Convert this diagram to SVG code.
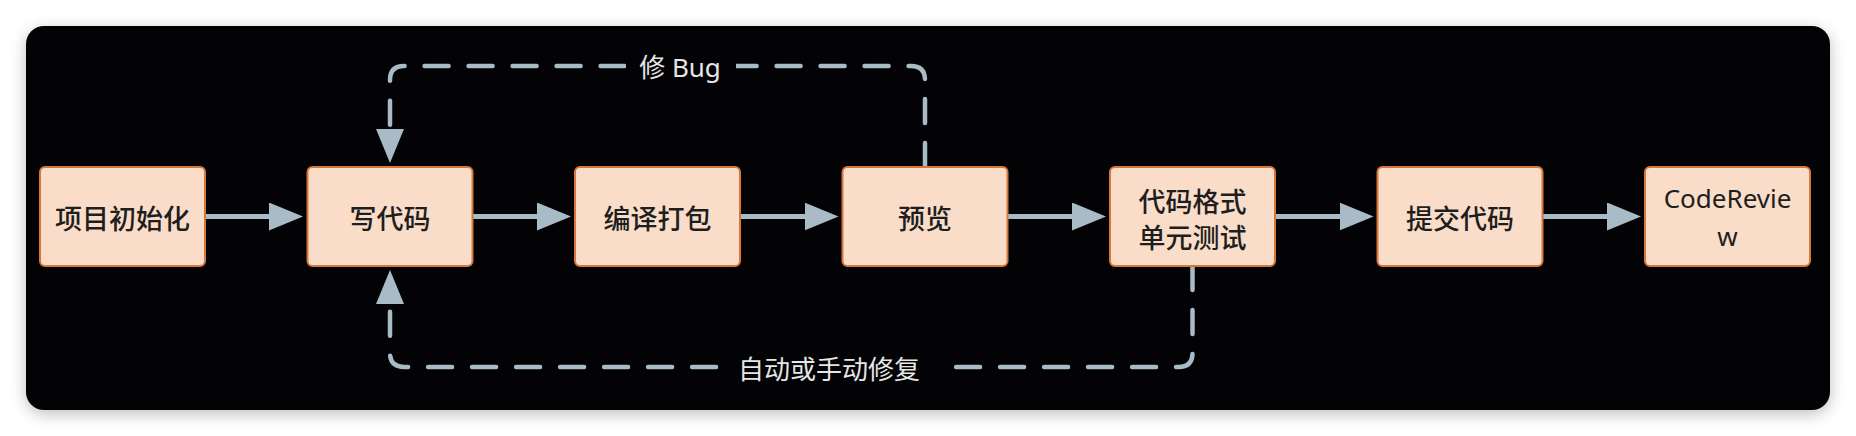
<svg xmlns="http://www.w3.org/2000/svg" width="1856" height="436" viewBox="0 0 1856 436">
  <style>
    .node rect { fill: #f9ddc9; stroke: #d8773a; stroke-width: 2; }
    .node text { font-family: "Noto Sans CJK SC", "Noto Sans", sans-serif; font-size: 27px; font-weight: 500; fill: #1e1e1e; text-anchor: middle; dominant-baseline: central; }
    .node text.latin { font-family: "Noto Sans", "Noto Sans CJK SC", sans-serif; font-weight: 400; font-size: 26px; }
    .flow { stroke: #a9bbc6; stroke-width: 5; fill: none; marker-end: url(#arrow); }
    .loop { stroke: #a9bbc6; stroke-width: 4.5; fill: none; stroke-dasharray: 24 20; stroke-linecap: round; marker-end: url(#arrow); }
    .lbl { font-family: "Noto Sans", "Noto Sans CJK SC", sans-serif; font-size: 26px; fill: #e6e6e6; text-anchor: middle; dominant-baseline: central; }
  </style>
  <defs>
    <marker id="arrow" markerUnits="userSpaceOnUse" markerWidth="36" markerHeight="30" refX="4" refY="14" orient="auto">
      <path d="M0,0 L34,14 L0,28 Z" fill="#a9bbc6"/>
    </marker>
    <filter id="shadow" x="-5%" y="-20%" width="110%" height="140%">
      <feGaussianBlur stdDeviation="8"/>
    </filter>
  </defs>

  <rect x="0" y="0" width="1856" height="436" fill="#ffffff"/>
  <rect x="26" y="30" width="1804" height="384" rx="18" fill="#000" opacity="0.25" filter="url(#shadow)"/>
  <rect id="panel" x="26" y="26" width="1804" height="384" rx="18" fill="#030305"/>

  <g id="connectors">
    <path class="flow" d="M205 216.5 H273"/>
    <path class="flow" d="M472.5 216.5 H541"/>
    <path class="flow" d="M740 216.5 H808.5"/>
    <path class="flow" d="M1007.5 216.5 H1076"/>
    <path class="flow" d="M1275 216.5 H1343.5"/>
    <path class="flow" d="M1542.5 216.5 H1611"/>
    <path class="loop" d="M925 167 V80 Q925 66 911 66 H404 Q390 66 390 80 V133"/>
    <path class="loop" d="M1192.5 266 V353 Q1192.5 367 1178.5 367 H404 Q390 367 390 353 V300"/>
    <g id="label-bug">
      <rect x="626" y="50" width="110" height="34" fill="#030305"/>
      <text class="lbl" x="680" y="67">修 Bug</text>
    </g>
    <g id="label-fix">
      <rect x="720" y="350" width="224" height="36" fill="#030305"/>
      <text class="lbl" x="829" y="369">自动或手动修复</text>
    </g>
  </g>

  <g id="node-init" class="node">
    <rect x="40" y="167" width="165" height="99" rx="5"/>
    <text x="122.5" y="217">项目初始化</text>
  </g>
  <g id="node-code" class="node">
    <rect x="307.5" y="167" width="165" height="99" rx="5"/>
    <text x="390" y="217">写代码</text>
  </g>
  <g id="node-build" class="node">
    <rect x="575" y="167" width="165" height="99" rx="5"/>
    <text x="657.5" y="217">编译打包</text>
  </g>
  <g id="node-preview" class="node">
    <rect x="842.5" y="167" width="165" height="99" rx="5"/>
    <text x="925" y="217">预览</text>
  </g>
  <g id="node-lint" class="node">
    <rect x="1110" y="167" width="165" height="99" rx="5"/>
    <text x="1192.5" y="200">代码格式</text>
    <text x="1192.5" y="236">单元测试</text>
  </g>
  <g id="node-commit" class="node">
    <rect x="1377.5" y="167" width="165" height="99" rx="5"/>
    <text x="1460" y="217">提交代码</text>
  </g>
  <g id="node-review" class="node">
    <rect x="1645" y="167" width="165" height="99" rx="5"/>
    <text class="latin" x="1727.5" y="198">CodeRevie</text>
    <text class="latin" x="1727.5" y="236">w</text>
  </g>
</svg>
